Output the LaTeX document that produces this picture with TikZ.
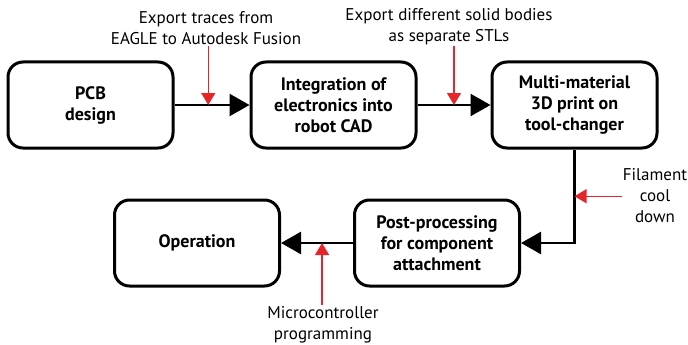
\documentclass[tikz,border=0pt]{standalone}
\usepackage{fontspec}
\setmainfont{PT Sans}
\usepackage{xcolor}
\usetikzlibrary{positioning,arrows.meta}

\definecolor{hintred}{HTML}{E5252A}

\tikzset{
  stage/.style={draw, line width=3pt, rounded corners=15pt,
    minimum width=165pt, minimum height=86pt, inner sep=0pt,
    align=center, font=\fontsize{18}{21}\selectfont\bfseries},
  flow/.style={line width=2.5pt, -{Triangle[length=20pt,width=22pt]}},
  hint/.style={hintred, line width=1.5pt, -{Triangle[length=12pt,width=14pt]}},
  note/.style={align=center, inner sep=1pt, font=\fontsize{17}{21}\selectfont}
}

\begin{document}
\begin{tikzpicture}[x=1pt, y=-1pt, node distance=74pt]
  \useasboundingbox (0,0) rectangle (688,345);
  % top row
  \node[stage] (pcb) at (90.5,105) {PCB\\design};
  \node[stage, right=75pt of pcb] (cad) {Integration of\\electronics into\\robot CAD};
  \node[stage, right=73pt of cad] (print) {Multi-material\\3D print on\\tool-changer};
  % bottom row
  \node[stage] (post) at (437,243) {Post-processing\\for component\\attachment};
  \node[stage, left=72pt of post] (ops) {Operation};

  \draw[flow]
    (pcb) -- coordinate[pos=0.45] (j1) (cad)
  ;
  \draw[flow]
    (cad) -- coordinate[pos=0.5] (j2) (print)
  ;
  \draw[flow]
    (print.south) |- coordinate[pos=0.25] (j3) (post)
  ;
  \draw[flow]
    (post) -- coordinate[pos=0.43] (j4) (ops)
  ;

  % side notes
  \node[note] (traces) at (206,28) {Export traces from\\EAGLE to Autodesk Fusion};
  \node[note] (bodies) at (449,27) {Export different solid bodies\\as separate STLs};
  \node[note] (cool) at (655,196) {Filament\\cool\\down};
  \node[note] (mcu) at (323,325) {Microcontroller\\programming};

  \draw[hint] (traces.south -| j1) -- (j1);
  \draw[hint] (bodies.south -| j2) -- (j2);
  \draw[hint] (cool.west |- j3) -- (j3);
  \draw[hint] (mcu.north -| j4) -- (j4);
\end{tikzpicture}
\end{document}
